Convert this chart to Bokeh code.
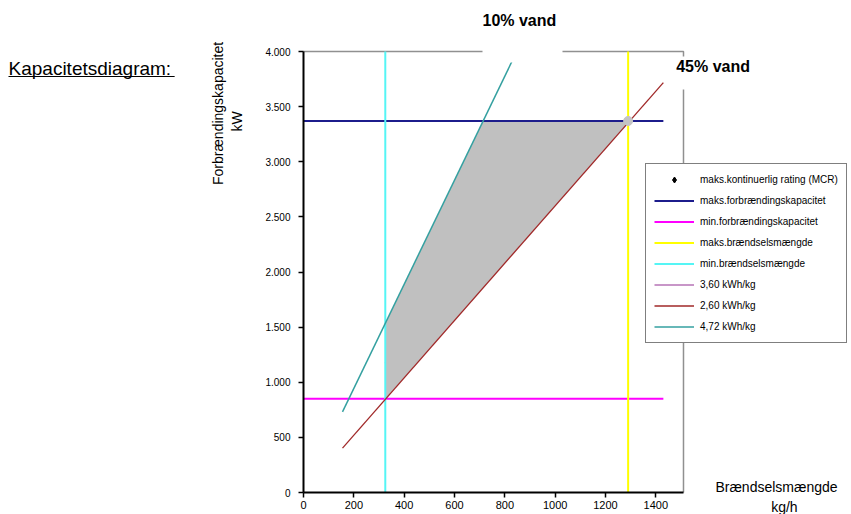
from bokeh.plotting import figure
from bokeh.models import Legend, LegendItem, Label, FixedTicker, BoxAnnotation
from bokeh.embed import file_html
from bokeh.resources import INLINE

# ---------------- data ----------------
x_ticks = [0, 200, 400, 600, 800, 1000, 1200, 1400]
y_ticks = [0, 500, 1000, 1500, 2000, 2500, 3000, 3500, 4000]
y_tick_labels = ["0", "500", "1.000", "1.500", "2.000", "2.500", "3.000", "3.500", "4.000"]

plot_x_max = 1510
plot_y_max = 4000

max_capacity_x = [0, 1430]
max_capacity_y = [3370, 3370]
min_capacity_x = [0, 1430]
min_capacity_y = [850, 850]
max_fuel_x = [1290, 1290]
max_fuel_y = [0, 4000]
min_fuel_x = [325, 325]
min_fuel_y = [0, 4000]

hv360_x = [325, 936]
hv360_y = [1170, 3370]
hv260_x = [155, 1430]
hv260_y = [403, 3718]
hv472_x = [155, 830]
hv472_y = [732, 3918]

mcr_x = [1290]
mcr_y = [3370]

area_x = [325, 325, 714, 1296]
area_y = [845, 1534, 3370, 3370]

legend_labels = [
    "maks.kontinuerlig rating (MCR)",
    "maks.forbrændingskapacitet",
    "min.forbrændingskapacitet",
    "maks.brændselsmængde",
    "min.brændselsmængde",
    "3,60 kWh/kg",
    "2,60 kWh/kg",
    "4,72 kWh/kg",
]

FONT = "Liberation Sans"

# frame = whole canvas; axes are pinned at 0 with fixed_location
p = figure(width=851, height=514, x_range=(-1204.0, 2177.6), y_range=(-199.5, 4462.6),
           output_backend="svg", toolbar_location=None, min_border=0)
p.grid.visible = False
p.outline_line_color = None
p.background_fill_color = "white"
p.border_fill_color = "white"

for ax in (p.xaxis, p.yaxis):
    ax.fixed_location = 0
    ax.axis_line_color = "black"
    ax.axis_line_width = 2
    ax.major_tick_line_color = "black"
    ax.major_tick_line_width = 1.5
    ax.major_tick_in = 0
    ax.major_tick_out = 5
    ax.minor_tick_line_color = None
    ax.major_label_text_font = FONT
    ax.major_label_text_color = "black"

p.xaxis.ticker = FixedTicker(ticks=x_ticks)
p.xaxis.bounds = (0, plot_x_max)
p.xaxis.major_label_standoff = 3
p.xaxis.major_label_text_font_size = "11px"
p.yaxis.ticker = FixedTicker(ticks=y_ticks)
p.yaxis.bounds = (0, plot_y_max)
p.yaxis.major_label_overrides = {v: s for v, s in zip(y_ticks, y_tick_labels)}
p.yaxis.major_label_standoff = 8
p.yaxis.major_label_text_font_size = "10px"

# ---------------- marks ----------------
# plot-area border (top and right)
p.line([0, plot_x_max, plot_x_max], [plot_y_max, plot_y_max, 0],
       line_color="#909090", line_width=1.5)
r_360 = p.line(hv360_x, hv360_y, line_color="#C896C8", line_width=2)
p.patch(area_x, area_y, fill_color="#C0C0C0", line_color=None)
r_max = p.line(max_capacity_x, max_capacity_y, line_color="#1C1C8C", line_width=2)
r_min = p.line(min_capacity_x, min_capacity_y, line_color="#FF00FF", line_width=2)
r_maxf = p.line(max_fuel_x, max_fuel_y, line_color="#FFFF00", line_width=2)
r_minf = p.line(min_fuel_x, min_fuel_y, line_color="#55F5F5", line_width=2)
r_260 = p.line(hv260_x, hv260_y, line_color="#A02828", line_width=1.3)
r_472 = p.line(hv472_x, hv472_y, line_color="#34A0A0", line_width=1.5)
r_mcr = p.scatter(mcr_x, mcr_y, marker="diamond", size=7, fill_color="black", line_color="black")
p.scatter(mcr_x, mcr_y, marker="circle", size=9, fill_color="#C4C4C4", line_color="#C4C4C4")

legend = Legend(
    items=[LegendItem(label=l, renderers=[r]) for l, r in zip(
        legend_labels, [r_mcr, r_max, r_min, r_maxf, r_minf, r_360, r_260, r_472])],
    location=(645, 171),
    label_text_font=FONT, label_text_font_size="10px", label_text_color="black",
    glyph_width=40, glyph_height=15, label_height=15, spacing=6, padding=8,
    margin=0, label_standoff=6, border_line_color="black", border_line_width=1,
    background_fill_color="white", background_fill_alpha=1.0,
)
p.add_layout(legend)

# white gaps in the plot-area border behind the two labels
p.add_layout(BoxAnnotation(left=711.3, right=1029.2, bottom=3900, top=4140,
                           fill_color="white", fill_alpha=1, line_color=None))
p.add_layout(BoxAnnotation(left=1470, right=1560, bottom=3655, top=3955,
                           fill_color="white", fill_alpha=1, line_color=None))

# ---------------- texts ----------------
p.add_layout(Label(x=-1172.2, y=3846, text="Kapacitetsdiagram:", text_font=FONT,
                   text_font_size="19px", text_align="left", text_baseline="middle",
                   text_color="black"))
p.add_layout(BoxAnnotation(left=-1172.2, right=-512, bottom=3768, top=3777,
                           fill_color="black", fill_alpha=1, line_color=None))
p.add_layout(Label(x=-337.8, y=3438, text="Forbrændingskapacitet", angle=1.5708,
                   text_font=FONT, text_font_size="14px", text_align="center",
                   text_baseline="middle", text_color="black"))
p.add_layout(Label(x=-266.2, y=3365, text="kW", angle=1.5708,
                   text_font=FONT, text_font_size="14px", text_align="center",
                   text_baseline="middle", text_color="black"))
p.add_layout(Label(x=711.3, y=4281, text="10% vand", text_font=FONT,
                   text_font_size="16px", text_font_style="bold",
                   text_align="left", text_baseline="middle", text_color="black"))
p.add_layout(Label(x=1480.9, y=3864, text="45% vand", text_font=FONT,
                   text_font_size="16px", text_font_style="bold",
                   text_align="left", text_baseline="middle", text_color="black"))
p.add_layout(Label(x=1879.6, y=45.4, text="Brændselsmængde", text_font=FONT,
                   text_font_size="14px", text_align="center", text_baseline="middle",
                   text_color="black"))
p.add_layout(Label(x=1911, y=-127, text="kg/h", text_font=FONT,
                   text_font_size="14px", text_align="center", text_baseline="middle",
                   text_color="black"))

open("out.html", "w").write(file_html(p, INLINE))
